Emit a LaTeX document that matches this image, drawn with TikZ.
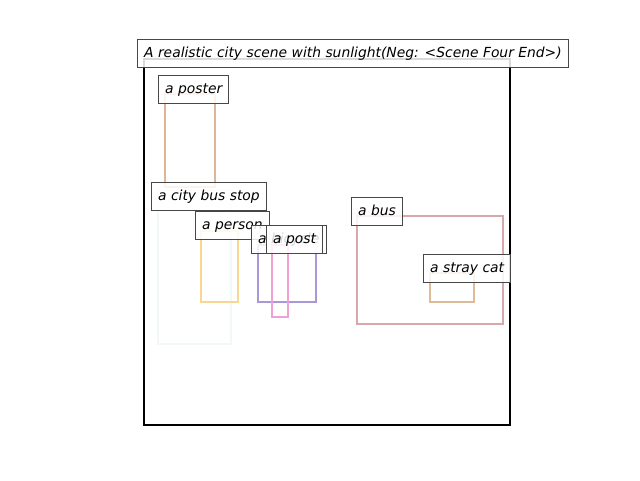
\documentclass[tikz,border=0pt]{standalone}
\usepackage{fontspec}
\setmainfont{DejaVu Sans}
\usepackage{xcolor}
\usepackage{tikz}

\definecolor{posterc}{HTML}{E0B496}
\definecolor{stopc}{HTML}{F2F8F8}
\definecolor{personc}{HTML}{F8D890}
\definecolor{bikec}{HTML}{A898D8}
\definecolor{postc}{HTML}{F0A0D8}
\definecolor{busc}{HTML}{D8A8A8}
\definecolor{catc}{HTML}{DDBB99}

\begin{document}
\begin{tikzpicture}[x=0.75pt, y=-0.75pt,
    lbl/.style={draw=black!72, line width=0.75pt, fill=white, fill opacity=0.85, text opacity=1,
        anchor=south west, text height=8.5pt, text depth=2.5pt, inner xsep=5pt, inner ysep=5pt,
        font=\fontsize{10.4}{12}\selectfont\itshape},
    region/.style={line width=1.8pt}]
    % Canvas (640x480)
    \useasboundingbox (0,0) rectangle (640,480);

    % Scene frame
    \draw[line width=1.6pt] (144,59) rectangle (510,425);

    % Title
    \node[lbl] (title) at (137,68) {A realistic city scene with sunlight(Neg: <Scene Four End>)};

    % Poster
    \draw[region, posterc] (165,94) rectangle (215,187);
    \node[lbl] (poster) at (158,104) {a poster};

    % City bus stop
    \draw[region, stopc] (158,190) rectangle (231,344);
    \node[lbl] (busstop) at (151,211) {a city bus stop};

    % Person
    \draw[region, personc] (201,231) rectangle (238,302);
    \node[lbl] (person) at (195,240) {a person};

    % Bicycle
    \draw[region, bikec] (258,245) rectangle (316,302);
    \node[lbl] (bicycle) at (251,254) {a bicycle};

    % Post
    \draw[region, postc] (272,245) rectangle (288,317);
    \node[lbl] (post) at (266,254) {a post};

    % Bus
    \draw[region, busc] (357,216) rectangle (503,324);
    \node[lbl] (bus) at (351,226) {a bus};

    % Stray cat
    \draw[region, catc] (430,273) rectangle (474,302);
    \node[lbl] (cat) at (423,283) {a stray cat};
\end{tikzpicture}
\end{document}
